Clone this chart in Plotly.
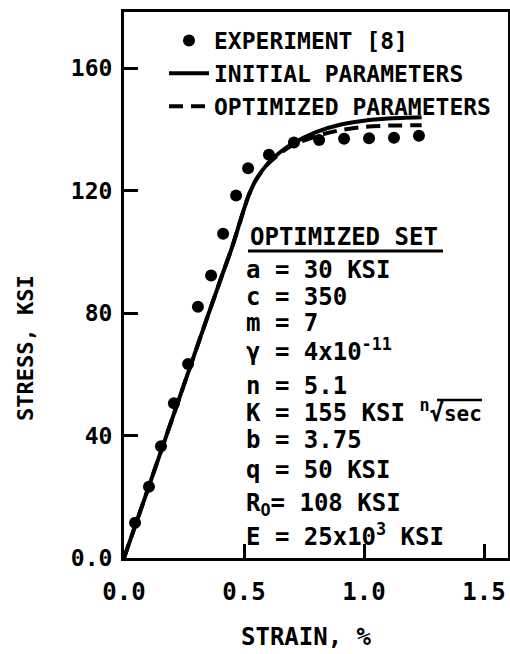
import plotly.graph_objects as go

# ---------------- data ----------------
exp_strain = [0.046, 0.104, 0.154, 0.208, 0.267, 0.308, 0.363, 0.413, 0.467, 0.517,
              0.604, 0.708, 0.813, 0.917, 1.021, 1.125, 1.229]
exp_stress = [11.5, 23.3, 36.5, 50.6, 63.4, 82.1, 92.3, 106.0, 118.5, 127.4,
              131.8, 135.8, 136.6, 137.0, 137.2, 137.3, 138.0]

init_strain = [0.0, 0.1, 0.2, 0.3, 0.4, 0.45, 0.48, 0.5, 0.52, 0.55, 0.6, 0.65, 0.7,
               0.8, 0.9, 1.0, 1.1, 1.24]
init_stress = [0.0, 22.6, 45.3, 68.0, 90.5, 101.5, 109.0, 114.0, 118.6, 123.6, 129.0,
               132.6, 135.3, 139.2, 141.6, 142.9, 143.6, 144.0]

opt_strain = [0.0, 0.1, 0.2, 0.3, 0.4, 0.45, 0.48, 0.5, 0.52, 0.55, 0.6, 0.65, 0.7,
              0.8, 0.9, 1.0, 1.1, 1.24]
opt_stress = [0.0, 22.6, 45.3, 68.0, 90.5, 101.5, 109.0, 114.0, 118.6, 123.6, 128.8,
              132.2, 134.8, 137.8, 139.8, 140.9, 141.3, 141.4]

x_tickvals = [0.0, 0.5, 1.0, 1.5]
x_ticktext = ["0.0", "0.5", "1.0", "1.5"]
y_tickvals = [0, 40, 80, 120, 160]
y_ticktext = ["0.0", "40", "80", "120", "160"]

x_title = "STRAIN, %"
y_title = "STRESS, KSI"
series_names = ["EXPERIMENT [8]", "INITIAL PARAMETERS", "OPTIMIZED PARAMETERS"]
param_title = "OPTIMIZED SET"
param_lines = [
    "a = 30 KSI",
    "c = 350",
    "m = 7",
    "γ = 4x10<sup>-11</sup>",
    "n = 5.1",
    "K = 155 KSI <sup>n</sup>√<span style='font-size:21px'>sec</span>",
    "b = 3.75",
    "q = 50 KSI",
    "R<sub>O</sub>= 108 KSI",
    "E = 25x10<sup>3</sup> KSI",
]

# ---------------- figure ----------------
W, H = 510, 654
ML, MR, MT, MB = 124, 2, 12, 96
PW, PH = W - ML - MR, H - MT - MB
FONT = "DejaVu Sans Mono"

def px2paper(x, y):
    return (x - ML) / PW, 1 - (y - MT) / PH

def bfont(size):
    return dict(family=FONT, size=size, color="black", weight="bold")

fig = go.Figure()
fig.add_trace(go.Scatter(x=exp_strain, y=exp_stress, mode="markers", name=series_names[0],
                         marker=dict(color="black", size=12)))
fig.add_trace(go.Scatter(x=init_strain, y=init_stress, mode="lines", name=series_names[1],
                         line=dict(color="black", width=4, shape="spline", smoothing=0.8)))
fig.add_trace(go.Scatter(x=opt_strain, y=opt_stress, mode="lines", name=series_names[2],
                         line=dict(color="black", width=4, dash="14px,8px", shape="spline",
                                   smoothing=0.8)))

annotations = []
tx, ty = px2paper(248, 237)
annotations.append(dict(text=param_title, x=tx, y=ty, xref="paper", yref="paper",
                        xanchor="left", yanchor="middle", showarrow=False, font=bfont(24)))
line_y = [270, 297, 323, 350, 386, 411, 440, 470, 504, 535]
for txt, yy in zip(param_lines, line_y):
    ax, ay = px2paper(244, yy)
    annotations.append(dict(text=txt, x=ax, y=ay, xref="paper", yref="paper",
                            xanchor="left", yanchor="middle", showarrow=False, font=bfont(24)))

# axis titles
ax, ay = px2paper(306, 637)
annotations.append(dict(text=x_title, x=ax, y=ay, xref="paper", yref="paper",
                        xanchor="center", yanchor="middle", showarrow=False, font=bfont(24)))
ax, ay = px2paper(25, 348)
annotations.append(dict(text=y_title, x=ax, y=ay, xref="paper", yref="paper", textangle=-90,
                        xanchor="center", yanchor="middle", showarrow=False, font=bfont(22)))

shapes = []
u0x, u0y = px2paper(248, 251)
u1x, _ = px2paper(443, 251)
shapes.append(dict(type="line", xref="paper", yref="paper", x0=u0x, x1=u1x, y0=u0y, y1=u0y,
                   line=dict(color="black", width=3)))
# overline of the root sign over "sec"
o0x, o0y = px2paper(437, 400)
o1x, _ = px2paper(482, 400)
shapes.append(dict(type="line", xref="paper", yref="paper", x0=o0x, x1=o1x, y0=o0y, y1=o0y,
                   line=dict(color="black", width=2.5)))

fig.update_layout(
    width=W, height=H,
    margin=dict(l=ML, r=MR, t=MT, b=MB, autoexpand=False),
    paper_bgcolor="white", plot_bgcolor="white",
    font=dict(family=FONT, color="black", weight="bold"),
    showlegend=True,
    legend=dict(x=(164 - ML) / PW, y=1 - (19 - MT) / PH, xanchor="left", yanchor="top",
                bgcolor="rgba(0,0,0,0)", font=bfont(23), itemwidth=40, tracegroupgap=0),
    xaxis=dict(range=[0, PW / 240.0], tickvals=x_tickvals, ticktext=x_ticktext,
               ticks="inside", ticklen=14, tickwidth=3, tickcolor="black",
               showline=True, linewidth=3, linecolor="black", mirror=True,
               showgrid=False, zeroline=False, ticklabelstandoff=10, automargin=False,
               tickfont=bfont(24)),
    yaxis=dict(range=[0, PH / 3.06], tickvals=y_tickvals, ticktext=y_ticktext,
               ticks="inside", ticklen=14, tickwidth=3, tickcolor="black",
               showline=True, linewidth=3, linecolor="black", mirror=True,
               showgrid=False, zeroline=False, ticklabelstandoff=4, automargin=False,
               tickfont=bfont(23)),
    annotations=annotations,
    shapes=shapes,
)

fig.write_html(
    "out.html",
    config={"displayModeBar": False},
    post_script="document.body.style.margin='0';document.body.style.overflow='hidden';",
)
